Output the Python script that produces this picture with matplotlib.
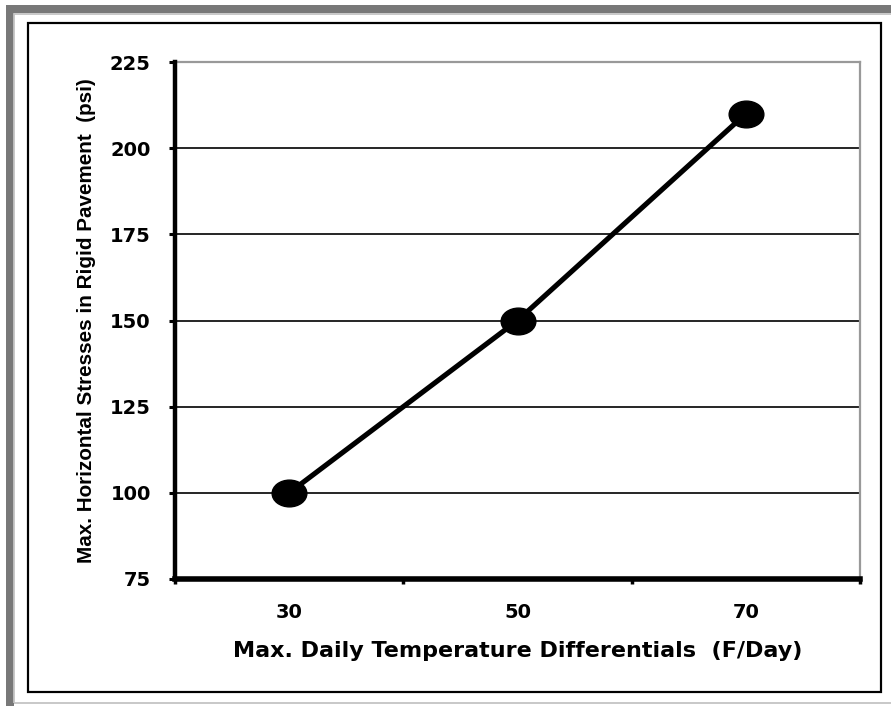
import matplotlib
matplotlib.use("Agg")
import matplotlib.pyplot as plt
from matplotlib.patches import Rectangle
from matplotlib.path import Path
from matplotlib.transforms import Affine2D

# Data
temp_categories = ["30", "50", "70"]
stress_psi = [100, 150, 210]
y_ticks = [75, 100, 125, 150, 175, 200, 225]

x_label = "Max. Daily Temperature Differentials  (F/Day)"
y_label = "Max. Horizontal Stresses in Rigid Pavement  (psi)"

W, H = 891, 706
fig = plt.figure(figsize=(W / 100, H / 100), dpi=100)
fig.patch.set_facecolor("white")


def fx(px):
    return px / W


def fy(py):
    return 1 - py / H


# Outer frame: dark grey band with a light grey inner edge, then a black box
fig.patches.append(Rectangle((fx(10), fy(707.5)), fx(900) - fx(10), fy(8.5) - fy(707.5),
                             transform=fig.transFigure, fill=False,
                             edgecolor="#787878", linewidth=8 * 0.72))
fig.patches.append(Rectangle((fx(14), fy(702.5)), fx(900) - fx(14), fy(13.5) - fy(702.5),
                             transform=fig.transFigure, fill=False,
                             edgecolor="#c4c4c4", linewidth=1.8 * 0.72))
fig.patches.append(Rectangle((fx(28), fy(692)), fx(881) - fx(28), fy(23) - fy(692),
                             transform=fig.transFigure, fill=False,
                             edgecolor="black", linewidth=2.2 * 0.72))

ax = fig.add_axes([fx(175), fy(579), fx(860) - fx(175), fy(62) - fy(579)])

x = list(range(len(temp_categories)))

# Elliptical marker, wider than tall
ellipse = Path.unit_circle().transformed(Affine2D().scale(1.0, 0.77))

ax.plot(x, stress_psi, color="black", linewidth=3.7, zorder=4,
        marker=ellipse, markersize=25, markerfacecolor="black",
        markeredgecolor="black", clip_on=False)

ax.set_xlim(-0.5, len(temp_categories) - 0.5)
ax.set_ylim(y_ticks[0], y_ticks[-1])
ax.set_yticks(y_ticks)
ax.set_xticks(x)
ax.set_xticklabels(temp_categories)
ax.set_xticks([i - 0.5 for i in range(len(temp_categories) + 1)], minor=True)

ax.yaxis.grid(True, color="black", linewidth=1.2)
ax.set_axisbelow(True)

for s in ["top", "right"]:
    ax.spines[s].set_color("#999999")
    ax.spines[s].set_linewidth(1.6)
ax.spines["left"].set_linewidth(3.2)
ax.spines["bottom"].set_linewidth(4.0)
ax.spines["left"].set_zorder(5)
ax.spines["bottom"].set_zorder(5)

ax.tick_params(axis="y", direction="out", length=4.5, width=2.2, pad=13,
               labelsize=14, colors="black")
ax.tick_params(axis="x", which="major", length=0, pad=17, labelsize=14)
ax.tick_params(axis="x", which="minor", direction="out", length=3.5, width=2.5)
for lab in ax.get_xticklabels() + ax.get_yticklabels():
    lab.set_fontfamily("DejaVu Sans")
    lab.set_fontweight("bold")

ax.set_ylabel(y_label, fontsize=14.9, fontweight="bold",
              family=["Liberation Sans", "DejaVu Sans"], labelpad=10)
ax.set_xlabel(x_label, fontsize=16, fontweight="bold", family="DejaVu Sans", labelpad=14)

fig.savefig("out.png", dpi=100, facecolor="white")
